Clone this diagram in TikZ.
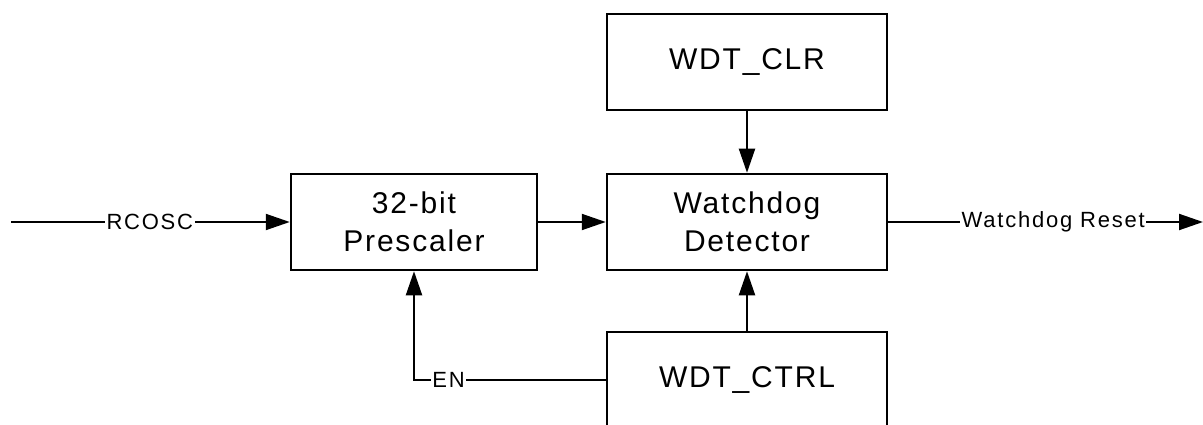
\documentclass[tikz,border=0pt]{standalone}
\usepackage{fontspec}
\setmainfont{Liberation Sans}
\newfontfamily\boxfont{Liberation Sans}[LetterSpace=6]
\newfontfamily\labfont{Liberation Sans}[LetterSpace=8]
\usetikzlibrary{arrows.meta}
\begin{document}
\begin{tikzpicture}[x=1pt,y=-1pt,
  blk/.style={draw=black, line width=2.5pt, minimum height=96pt, inner sep=0pt, align=center,
              font=\boxfont\fontsize{30}{38.5}\selectfont},
  conn/.style={line width=2pt, -{Triangle[length=24pt,width=16pt]}},
  plain/.style={line width=2pt},
  lab/.style={fill=white, inner sep=1.5pt, font=\labfont\fontsize{22}{26}\selectfont}]
\useasboundingbox (0,0) rectangle (1203,425);
\clip (0,0) rectangle (1203,425);
\node[blk, minimum width=246pt] (pre) at (414,222) {32-bit\\Prescaler};
\node[blk, minimum width=280pt] (det) at (747,222) {Watchdog\\Detector};
\node[blk, minimum width=280pt] (clr) at (747,62) {WDT\_CLR};
\node[blk, minimum width=280pt] (ctrl) at (747,380) {WDT\_CTRL};
\coordinate (in) at (11,222);
\coordinate (out) at (1203,222);
\draw[conn] (in) -- node[lab, pos=0.498] {RCOSC} (pre.west);
\draw[conn] (pre.east) -- (det.west);
\draw[conn] (clr.south) -- (det.north);
\draw[conn] (ctrl.north) -- (det.south);
\draw[conn] (ctrl.west) -| node[lab, pos=0.41] {EN} (pre.south);
\draw[conn] (det.east) -- node[lab, pos=0.524] {Watchdog Reset} (out);
\end{tikzpicture}
\end{document}
